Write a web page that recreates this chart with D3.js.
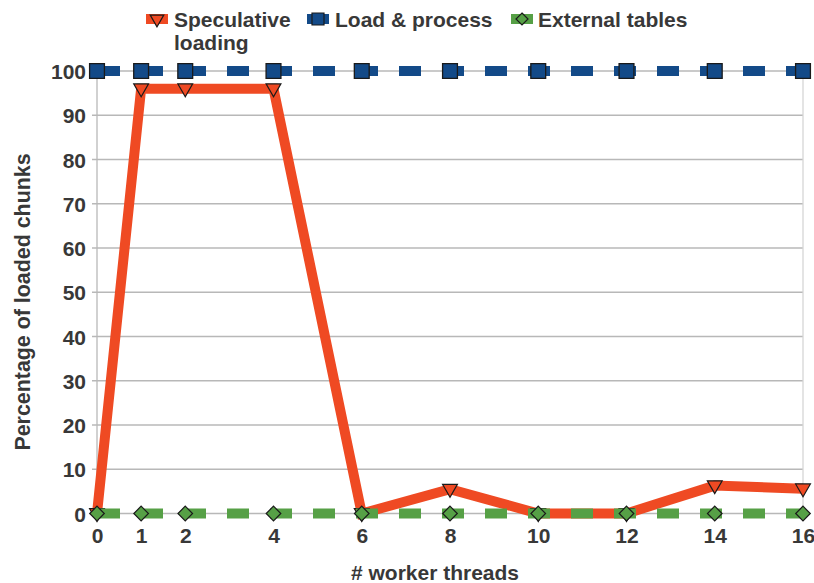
<!DOCTYPE html>
<html>
<head>
<meta charset="utf-8">
<script src="https://cdn.jsdelivr.net/npm/d3@7"></script>
<style>
  html, body { margin: 0; padding: 0; background: #fff; }
  svg { display: block; }
  text { font-family: "Liberation Sans", Arial, sans-serif; font-weight: bold; fill: #383838; }
</style>
</head>
<body>
<svg id="chart" width="814" height="583"></svg>
<script>
const threads = [0, 1, 2, 4, 6, 8, 10, 12, 14, 16];
const speculative = [0, 96, 96, 96, 0, 5.5, 0, 0, 6.3, 5.6];
const loadProcess = [100, 100, 100, 100, 100, 100, 100, 100, 100, 100];
const externalTables = [0, 0, 0, 0, 0, 0, 0, 0, 0, 0];
const xTicks = [0, 1, 2, 4, 6, 8, 10, 12, 14, 16];
const yTicks = [0, 10, 20, 30, 40, 50, 60, 70, 80, 90, 100];
const seriesNames = [["Speculative", "loading"], ["Load & process"], ["External tables"]];

const colors = { red: "#ef4a23", blue: "#134a88", green: "#56a046" };

const svg = d3.select("#chart");
const x = d3.scaleLinear().domain([0, 16]).range([97, 803]);
const y = d3.scaleLinear().domain([0, 100]).range([513.5, 71]);

// grid
const grid = svg.append("g");
grid.selectAll("line.h").data(yTicks).enter().append("line")
  .attr("x1", 92).attr("x2", 803)
  .attr("y1", d => y(d)).attr("y2", d => y(d))
  .attr("stroke", "#b8b8b8").attr("stroke-width", 1.3);
grid.append("line").attr("x1", x(0)).attr("x2", x(0)).attr("y1", y(100)).attr("y2", y(0) + 5)
  .attr("stroke", "#b8b8b8").attr("stroke-width", 1.3);
grid.append("line").attr("x1", x(16)).attr("x2", x(16)).attr("y1", y(100)).attr("y2", y(0))
  .attr("stroke", "#d6d6d6").attr("stroke-width", 1.3);

// y axis labels
const yAxis = d3.axisLeft(y).tickValues(yTicks).tickSize(0).tickPadding(10);
const gy = svg.append("g").attr("transform", `translate(${x(0) - 1},0)`).call(yAxis);
gy.select(".domain").remove();
gy.selectAll("text").style("font-size", "21px").attr("dy", "0.36em")
  .style("font-family", "'Liberation Sans', Arial, sans-serif").style("font-weight", "bold").attr("fill", "#383838");

// x axis labels
const xAxis = d3.axisBottom(x).tickValues(xTicks).tickSize(0).tickPadding(15);
const gx = svg.append("g").attr("transform", `translate(0,${y(0)})`).call(xAxis);
gx.select(".domain").remove();
gx.selectAll("text").style("font-size", "21px")
  .style("font-family", "'Liberation Sans', Arial, sans-serif").style("font-weight", "bold").attr("fill", "#383838");

// titles
svg.append("text").attr("x", 435).attr("y", 580).attr("text-anchor", "middle")
  .style("font-size", "21px").text("# worker threads");
svg.append("text").attr("transform", "translate(30,302) rotate(-90)").attr("text-anchor", "middle")
  .style("font-size", "21.4px").text("Percentage of loaded chunks");

const line = d3.line().x((d, i) => x(threads[i])).y(d => y(d));

const tri = d3.symbol().type(d3.symbolTriangle).size(95);
const sq = d3.symbol().type(d3.symbolSquare).size(220);
const diamondPath = r => `M0,${-r}L${r},0L0,${r}L${-r},0Z`;

// speculative
svg.append("path").datum(speculative).attr("d", line)
  .attr("fill", "none").attr("stroke", colors.red).attr("stroke-width", 10);
svg.append("g").selectAll("path").data(speculative).enter().append("path")
  .attr("d", tri).attr("transform", (d, i) => `translate(${x(threads[i])},${y(d) - 0.5}) rotate(180)`)
  .attr("fill", colors.red).attr("stroke", "#1a1a1a").attr("stroke-width", 1.2);

// load & process
svg.append("path").datum(loadProcess).attr("d", line)
  .attr("fill", "none").attr("stroke", colors.blue).attr("stroke-width", 10)
  .attr("stroke-dasharray", "22,21").attr("stroke-dashoffset", -1);
svg.append("g").selectAll("path").data(loadProcess).enter().append("path")
  .attr("d", sq).attr("transform", (d, i) => `translate(${x(threads[i])},${y(d)})`)
  .attr("fill", colors.blue).attr("stroke", "#1a1a1a").attr("stroke-width", 1.3);

// external tables
svg.append("path").datum(externalTables).attr("d", line)
  .attr("fill", "none").attr("stroke", colors.green).attr("stroke-width", 10)
  .attr("stroke-dasharray", "22,21").attr("stroke-dashoffset", -1);
svg.append("g").selectAll("path").data(externalTables).enter().append("path")
  .attr("d", diamondPath(7.3)).attr("transform", (d, i) => `translate(${x(threads[i])},${y(d)})`)
  .attr("fill", colors.green).attr("stroke", "#1a1a1a").attr("stroke-width", 1.2);

// legend
const legendItems = [
  { name: seriesNames[0], color: colors.red, d: d3.symbol().type(d3.symbolTriangle).size(80)(), rot: 180, ix: 146, tx: 174 },
  { name: seriesNames[1], color: colors.blue, d: d3.symbol().type(d3.symbolSquare).size(144)(), rot: 0, ix: 307, tx: 335 },
  { name: seriesNames[2], color: colors.green, d: diamondPath(6), rot: 0, ix: 511, tx: 538 }
];
const lg = svg.append("g");
legendItems.forEach(it => {
  lg.append("rect").attr("x", it.ix).attr("y", 14).attr("width", 22).attr("height", 10).attr("fill", it.color);
  lg.append("path").attr("d", it.d)
    .attr("transform", `translate(${it.ix + 11},${19}) rotate(${it.rot})`)
    .attr("fill", it.color).attr("stroke", "#1a1a1a").attr("stroke-width", 1.2);
  const t = lg.append("text").attr("x", it.tx).attr("y", 27).style("font-size", "21px");
  it.name.forEach((s, k) => {
    t.append("tspan").attr("x", it.tx).attr("dy", k === 0 ? 0 : 23).text(s);
  });
});
</script>
</body>
</html>
